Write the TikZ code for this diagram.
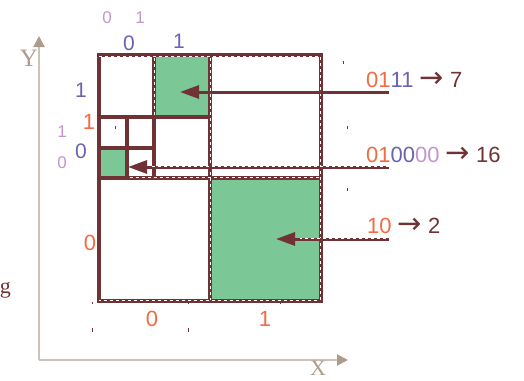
\documentclass[tikz,border=0pt]{standalone}
\usepackage{fontspec}
\setmainfont{Liberation Sans}
\newfontfamily\seriffont{Liberation Serif}
\newfontfamily\arrfont{DejaVu Sans}
\usetikzlibrary{arrows.meta}
\definecolor{dred}{HTML}{703234}
\definecolor{cell}{HTML}{7BC896}
\definecolor{ora}{HTML}{F26B43}
\definecolor{blu}{HTML}{6A63B0}
\definecolor{lpur}{HTML}{C494CC}
\definecolor{axis}{HTML}{CCC2B8}
\definecolor{axhead}{HTML}{AC9C8C}
\newcommand{\myarr}{{\arrfont\fontsize{29pt}{29pt}\selectfont →}}
\tikzset{
  grid/.style={draw=dred, line width=3.3pt, line cap=rect},
  wdash/.style={draw=white, line width=0.6pt, dash pattern=on 3pt off 3pt},
  ptr/.style={draw=dred, line width=3pt, -{Triangle[length=19pt,width=13pt]}},
  ax/.style={draw=axis, line width=2pt, -{Triangle[length=11pt,width=11pt,fill=axhead,color=axhead]}},
  lbl/.style={inner sep=0pt, font=\fontsize{21pt}{24pt}\selectfont},
  big/.style={inner sep=0pt, font=\fontsize{22pt}{25pt}\selectfont},
  sml/.style={inner sep=0pt, font=\fontsize{17pt}{20pt}\selectfont},
  axl/.style={inner sep=0pt, text=axhead, font=\seriffont\fontsize{25pt}{28pt}\selectfont},
  tick/.style={draw=dred, line width=1pt}
}
\begin{document}
\begin{tikzpicture}[x=1pt,y=-1pt]
\useasboundingbox (0,0) rectangle (524,380);
% axes
\coordinate (o) at (39,360);
\coordinate (ytip) at (39,36);
\coordinate (xtip) at (348,360);
\draw[ax] (o) -- (ytip);
\draw[ax] (o) -- (xtip);
\node[axl] (ylab) at (29,58) {Y};
\node[axl, font=\seriffont\fontsize{22pt}{24pt}\selectfont] (xlab) at (318,368) {X};
\node[inner sep=0pt, anchor=base east, text=dred, font=\seriffont\fontsize{22pt}{25pt}\selectfont] (g) at (11,293) {g};
% green cells
\fill[cell] (154,55) rectangle (210,117);
\fill[cell] (99,148) rectangle (127,178);
\fill[cell] (210,178) rectangle (321,301);
% grid
\draw[grid] (99,55) rectangle (321,301);
\draw[grid] (210,55) -- (210,301);
\draw[grid] (99,178) -- (321,178);
\draw[grid] (154,55) -- (154,178);
\draw[grid] (99,117) -- (210,117);
\draw[grid] (127,117) -- (127,178);
\draw[grid] (99,148) -- (154,148);
% white dashes overlay
\draw[wdash] (99,56) -- (320,56) -- (320,300) -- (99,300);
\draw[wdash] (154,58) -- (154,115);
\draw[wdash] (210,58) -- (210,300);
\draw[wdash] (130,177) -- (320,177);
% pointers
\coordinate (s7) at (389,92);
\coordinate (s16) at (389,167);
\coordinate (s2) at (389,239);
\coordinate (t7) at (180,92);
\coordinate (t16) at (128,167);
\coordinate (t2) at (276,239);
\draw[ptr] (s7) -- (t7);
\draw[ptr] (s16) -- (t16);
\draw[ptr] (s2) -- (t2);
\draw[wdash] (389,166) -- (150,166);
\draw[wdash] (386,238) -- (300,238);
% code labels
\node[big, anchor=base west] (l7) at (366,87) {\textcolor{ora}{01}\textcolor{blu}{11} \textcolor{dred}{\myarr\ 7}};
\node[big, anchor=base west] (l16) at (366,162) {\textcolor{ora}{01}\textcolor{blu}{00}\textcolor{lpur}{00} \textcolor{dred}{\myarr\ 16}};
\node[big, anchor=base west] (l2) at (367,233) {\textcolor{ora}{10} \textcolor{dred}{\myarr\ 2}};
% axis digit labels
\node[lbl, text=blu] (yb1) at (81,90) {1};
\node[big, text=ora] (yo1) at (89,122) {1};
\node[sml, text=lpur] (yp1) at (62,132) {1};
\node[lbl, text=blu] (yb0) at (81,151) {0};
\node[sml, text=lpur] (yp0) at (62,163) {0};
\node[big, text=ora] (yo0) at (90,243) {0};
\node[sml, text=lpur] (xp0) at (107,18) {0};
\node[sml, text=lpur] (xp1) at (140,18) {1};
\node[lbl, text=blu] (xb0) at (129,43) {0};
\node[lbl, text=blu] (xb1) at (179,41) {1};
\node[big, text=ora] (xo0) at (152,319) {0};
\node[big, text=ora] (xo1) at (265,319) {1};
% tiny marks
\draw[tick] (343,61) -- (343,64);
\draw[tick] (347,126) -- (347,129);
\draw[tick] (347,188) -- (347,191);
\draw[tick] (115,126) -- (115,129);
\draw[tick] (92,302) -- (92,304);
\draw[tick] (92,328) -- (92,332);
\draw[tick] (188,328) -- (188,332);
\draw[tick] (188,302) -- (188,304);
\draw[tick] (280,302) -- (280,304);
\end{tikzpicture}
\end{document}
